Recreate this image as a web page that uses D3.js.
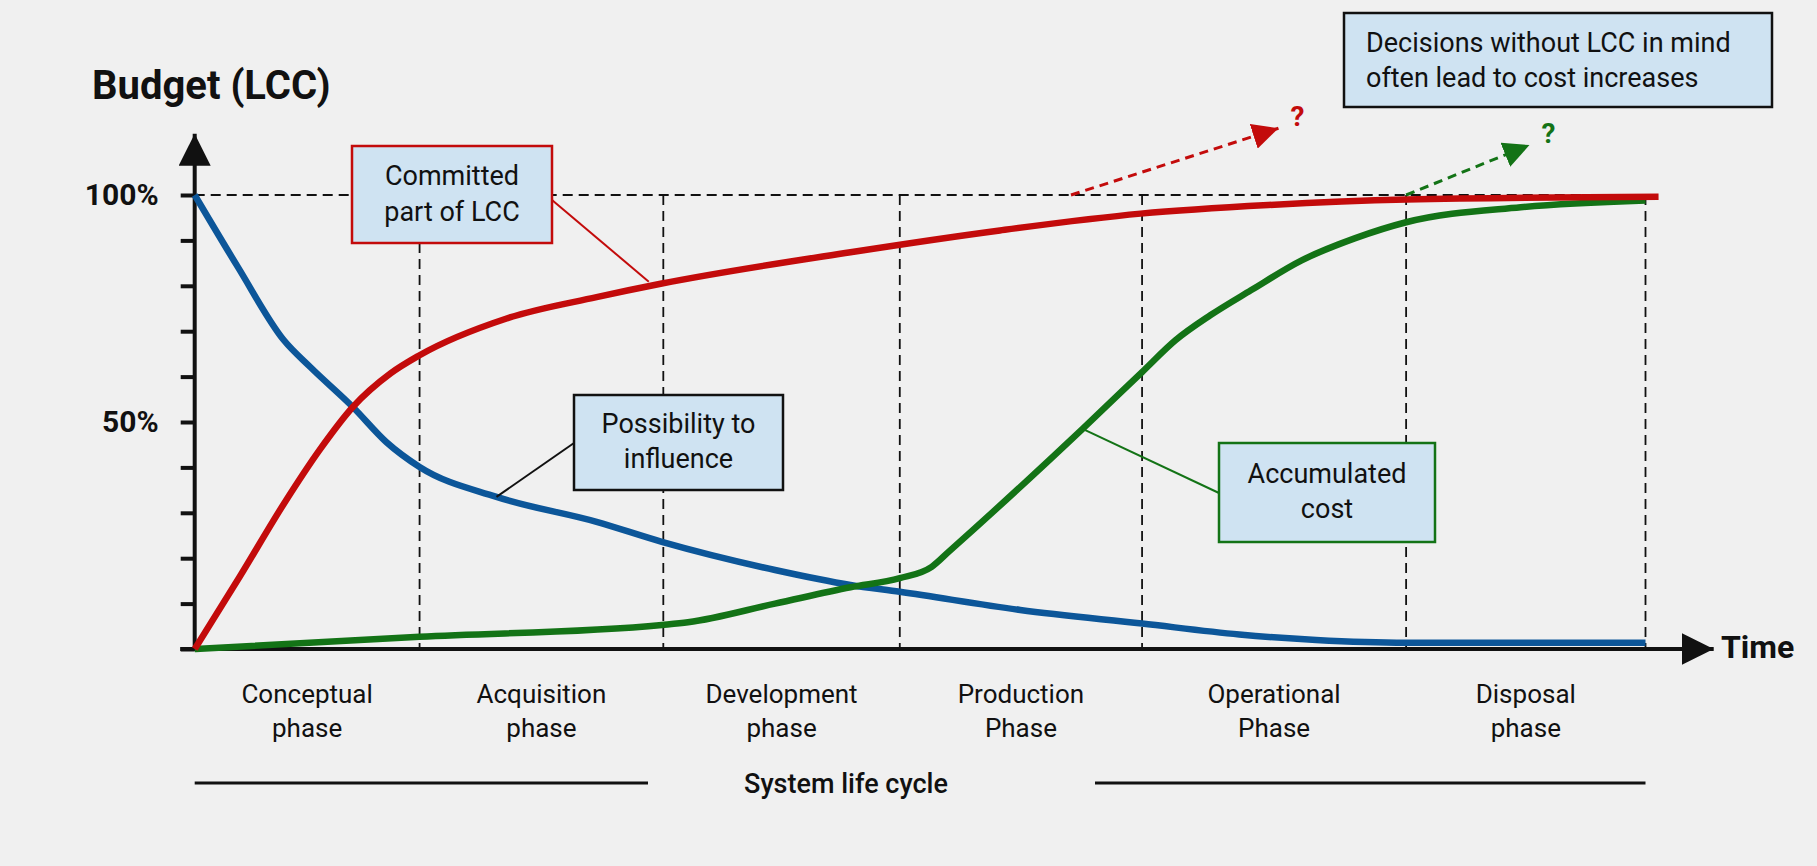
<!DOCTYPE html>
<html>
<head>
<meta charset="utf-8">
<script src="https://cdn.jsdelivr.net/npm/d3@7"></script>
<style>
  body { margin: 0; background: #f0f0f0; }
  svg { display: block; font-family: Roboto, "Noto Sans", sans-serif; }
</style>
</head>
<body>
<div id="chart-area"></div>
<script>

// ---- DATA ----

var phaseLabels = [["Conceptual", "phase"], ["Acquisition", "phase"], ["Development", "phase"],
                   ["Production", "Phase"], ["Operational", "Phase"], ["Disposal", "phase"]];
var phaseEnds = [15.5, 32.3, 48.6, 65.3, 83.5, 100];   // time (% of life cycle)

var yTicks = [0, 10, 20, 30, 40, 50, 60, 70, 80, 90, 100];
var yTickLabels = [50, 100];

// possibility to influence (blue)
var influenceT = [0, 3, 6.15, 8, 10.9, 13.2, 15.5, 20.8, 27.7, 32.2, 40, 45.2, 48.6, 56.9, 65.3, 72, 77.3, 83.5, 100];
var influenceV = [100, 84, 68, 62, 53.3, 45.6, 40.1, 33.5, 28, 23.6, 17.4, 14.1, 12.6, 8.6, 5.6, 3.2, 2.0, 1.4, 1.4];

// committed part of LCC (red)
var committedT = [0, 3.1, 6.15, 8.6, 10.9, 13.5, 15.5, 21.5, 27.7, 32.2, 45.2, 55.5, 65.2, 74, 83.5, 100.9];
var committedV = [0, 15.9, 32, 43.8, 53.3, 60.7, 64.7, 72.8, 77.5, 80.5, 87.4, 92.2, 95.9, 97.8, 99, 99.6];

// accumulated cost (green)
var costT = [0, 15.5, 32.2, 34, 40, 45.2, 48.6, 50.8, 52, 61.2, 65.3, 67.6, 70, 72.8, 76.3, 80, 83.5, 91.4, 100];
var costV = [0, 2.7, 5.3, 5.9, 10, 13.6, 15.6, 18.1, 21.5, 48.5, 61, 68, 73.5, 79, 85.6, 90.5, 94, 97.3, 98.8];

// cost increase arrows: [start t, start v, end t, end v]
var overrunRed = [60.4, 100, 74.7, 114.7];
var overrunGreen = [83.5, 100, 92, 111];


// ---- CHART AREA ----

var W = 1817, H = 866;
var RED = "#c30b0b", BLUE = "#0c5699", GREEN = "#137316", INK = "#111", FILL = "#cfe3f2";

var svg = d3.select("#chart-area").append("svg")
    .attr("width", W)
    .attr("height", H);

svg.append("rect").attr("width", W).attr("height", H).attr("fill", "#f0f0f0");

var x = d3.scaleLinear().domain([0, 100]).range([194.7, 1645.5]);
var y = d3.scaleLinear().domain([0, 100]).range([649, 195]);

var defs = svg.append("defs");
function marker(id, color, size) {
    defs.append("marker")
        .attr("id", id)
        .attr("viewBox", "0 0 10 10")
        .attr("refX", 10).attr("refY", 5)
        .attr("markerUnits", "userSpaceOnUse")
        .attr("markerWidth", size).attr("markerHeight", size)
        .attr("orient", "auto")
        .append("path")
        .attr("d", "M0,0L10,5L0,10Z")
        .attr("fill", color);
}
marker("arrRed", RED, 26);
marker("arrGreen", GREEN, 26);
marker("arrAxis", INK, 32);

// grid dashes
svg.append("line")
    .attr("x1", x(0)).attr("x2", x(100))
    .attr("y1", y(100)).attr("y2", y(100))
    .attr("stroke", INK).attr("stroke-width", 1.8).attr("stroke-dasharray", "10,6");

svg.selectAll(".phase-line")
    .data(phaseEnds)
    .enter().append("line")
    .attr("class", "phase-line")
    .attr("x1", function(d) { return x(d); })
    .attr("x2", function(d) { return x(d); })
    .attr("y1", y(100)).attr("y2", y(0))
    .attr("stroke", INK).attr("stroke-width", 1.8).attr("stroke-dasharray", "10,6");


// ---- AXES ----

var yAxis = d3.axisLeft(y)
    .tickValues(yTicks)
    .tickSize(14)
    .tickPadding(22)
    .tickFormat(function(d) { return yTickLabels.indexOf(d) >= 0 ? d + "%" : ""; });

var yAxisGroup = svg.append("g")
    .attr("transform", "translate(" + x(0) + ",0)")
    .call(yAxis);
yAxisGroup.select(".domain").remove();
yAxisGroup.selectAll(".tick line").attr("stroke", INK).attr("stroke-width", 4);
yAxisGroup.selectAll(".tick text")
    .attr("fill", INK)
    .style("font-size", "30px")
    .style("font-weight", "700")
    .style("font-family", "Roboto, sans-serif");

// axis lines with arrows
svg.append("line")
    .attr("x1", x(0)).attr("x2", x(0))
    .attr("y1", y(0) + 2).attr("y2", y(113.5))
    .attr("stroke", INK).attr("stroke-width", 4)
    .attr("marker-end", "url(#arrAxis)");

svg.append("line")
    .attr("x1", x(-1)).attr("x2", x(104.7))
    .attr("y1", y(0)).attr("y2", y(0))
    .attr("stroke", INK).attr("stroke-width", 4)
    .attr("marker-end", "url(#arrAxis)");

svg.append("text")
    .attr("x", 92).attr("y", 99)
    .attr("fill", INK)
    .style("font-size", "40px").style("font-weight", "700")
    .text("Budget (LCC)");

svg.append("text")
    .attr("x", 1721).attr("y", 658)
    .attr("fill", INK)
    .style("font-size", "32px").style("font-weight", "700")
    .text("Time");


// ---- CURVES ----

var line = d3.line()
    .x(function(d) { return x(d[0]); })
    .y(function(d) { return y(d[1]); })
    .curve(d3.curveMonotoneX);

function zip(t, v) { return t.map(function(d, i) { return [d, v[i]]; }); }

[[influenceT, influenceV, BLUE], [costT, costV, GREEN], [committedT, committedV, RED]].forEach(function(s) {
    svg.append("path")
        .datum(zip(s[0], s[1]))
        .attr("d", line)
        .attr("fill", "none")
        .attr("stroke", s[2])
        .attr("stroke-width", 6.5)
        .attr("stroke-linejoin", "round");
});

// cost overrun arrows
[[overrunRed, RED, "arrRed"], [overrunGreen, GREEN, "arrGreen"]].forEach(function(a) {
    var p = a[0];
    svg.append("line")
        .attr("x1", x(p[0])).attr("y1", y(p[1]))
        .attr("x2", x(p[2])).attr("y2", y(p[3]))
        .attr("stroke", a[1]).attr("stroke-width", 3).attr("stroke-dasharray", "9,6")
        .attr("marker-end", "url(#" + a[2] + ")");
    svg.append("text")
        .attr("x", x(p[2]) + 12).attr("y", y(p[3]) - 2)
        .attr("fill", a[1])
        .style("font-size", "28px").style("font-weight", "700")
        .text("?");
});


// ---- ANNOTATION BOXES ----

function callout(box, lines, stroke, leader, align) {
    if (leader) {
        svg.append("line")
            .attr("x1", leader[0]).attr("y1", leader[1])
            .attr("x2", x(leader[2])).attr("y2", y(leader[3]))
            .attr("stroke", stroke).attr("stroke-width", 2);
    }
    svg.append("rect")
        .attr("x", box[0]).attr("y", box[1])
        .attr("width", box[2] - box[0]).attr("height", box[3] - box[1])
        .attr("fill", FILL).attr("stroke", stroke).attr("stroke-width", 2.5);
    var t = svg.append("text")
        .attr("fill", INK)
        .style("font-size", "27px")
        .attr("text-anchor", align === "left" ? "start" : "middle");
    lines.forEach(function(l, i) {
        t.append("tspan")
            .attr("x", align === "left" ? box[0] + 22 : (box[0] + box[2]) / 2)
            .attr("y", l[1])
            .text(l[0]);
    });
}

callout([352, 146, 552, 243], [["Committed", 185], ["part of LCC", 221]], RED, [552, 200, 31.3, 80.9]);
callout([574, 395, 783, 490], [["Possibility to", 433], ["influence", 468]], INK, [574, 443, 20.8, 33.5]);
callout([1219, 443, 1435, 542], [["Accumulated", 483], ["cost", 518]], GREEN, [1219, 493, 61.2, 48.5]);
callout([1344, 13, 1772, 107], [["Decisions without LCC in mind", 52], ["often lead to cost increases", 87]], INK, null, "left");


// ---- PHASE LABELS ----

var phaseStarts = [0].concat(phaseEnds.slice(0, -1));
var labels = svg.selectAll(".phase-label")
    .data(phaseLabels)
    .enter().append("text")
    .attr("class", "phase-label")
    .attr("text-anchor", "middle")
    .attr("fill", INK)
    .style("font-size", "26px");

labels.each(function(d, i) {
    var cx = x((phaseStarts[i] + phaseEnds[i]) / 2);
    d3.select(this).selectAll("tspan")
        .data(d)
        .enter().append("tspan")
        .attr("x", cx)
        .attr("y", function(l, j) { return 703 + j * 34; })
        .text(function(l) { return l; });
});

svg.append("line")
    .attr("x1", x(0)).attr("x2", 648).attr("y1", 783).attr("y2", 783)
    .attr("stroke", INK).attr("stroke-width", 3);
svg.append("line")
    .attr("x1", 1095).attr("x2", x(100)).attr("y1", 783).attr("y2", 783)
    .attr("stroke", INK).attr("stroke-width", 3);
svg.append("text")
    .attr("x", 846).attr("y", 793)
    .attr("text-anchor", "middle")
    .attr("fill", INK)
    .style("font-size", "27px").style("font-weight", "500")
    .text("System life cycle");

</script>
</body>
</html>
